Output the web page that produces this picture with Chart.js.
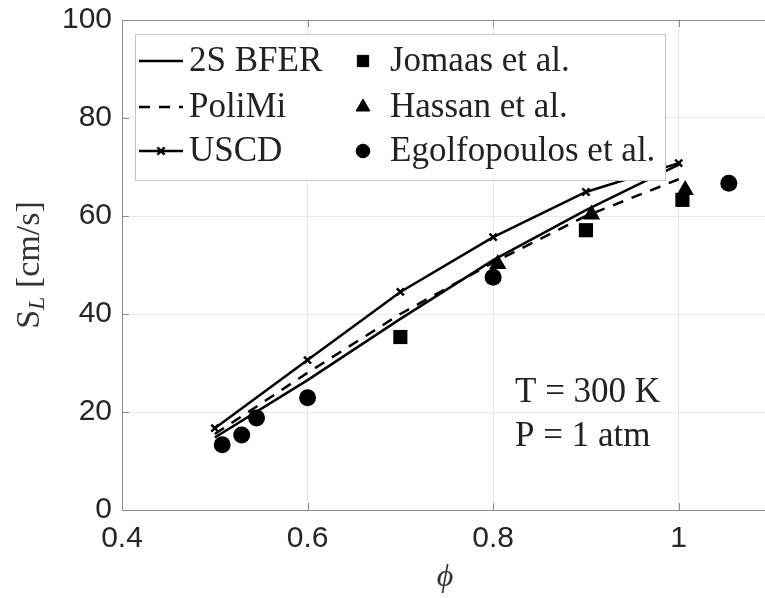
<!DOCTYPE html>
<html>
<head>
<meta charset="utf-8">
<script src="https://cdn.jsdelivr.net/npm/chart.js@4/dist/chart.umd.min.js"></script>
<style>
html, body { margin: 0; padding: 0; background: #fff; overflow: hidden; }
#wrap { width: 765px; height: 598px; }
</style>
</head>
<body>
<div id="wrap"><canvas id="slChart" width="765" height="598"></canvas></div>
<script>
// model curves
var phiModel = [0.5, 0.6, 0.7, 0.8, 0.9, 1.0];
var bferValues = [14.8, 26.5, 39.0, 51.0, 61.2, 70.5];
var polimiValues = [15.5, 28.0, 40.0, 50.5, 60.0, 67.5];
var uscdValues = [16.7, 30.6, 44.5, 55.7, 64.9, 70.8];

// experiments
var jomaasPhi = [0.70, 0.90, 1.004];
var jomaasValues = [35.3, 57.1, 63.3];
var hassanPhi = [0.805, 0.906, 1.007];
var hassanValues = [50.2, 60.3, 65.3];
var egolfPhi = [0.508, 0.529, 0.545, 0.600, 0.800, 1.054];
var egolfValues = [13.3, 15.3, 18.8, 22.9, 47.5, 66.7];

var xTicks = [0.4, 0.6, 0.8, 1.0];
var xTickLabels = ['0.4', '0.6', '0.8', '1'];
var yTicks = [0, 20, 40, 60, 80, 100];
var yTickLabels = ['0', '20', '40', '60', '80', '100'];

function pairs(xs, ys) {
    return xs.map(function (x, i) { return { x: x, y: ys[i] }; });
}

var axisGray = '#8c8c8c';
var textGray = '#262626';
var serif = '"Liberation Serif", "DejaVu Serif", serif';

// box, inward ticks, legend and labels (matlab look)
var framePlugin = {
    id: 'frame',
    beforeDatasetsDraw: function (chart) {
        var ctx = chart.ctx, a = chart.chartArea;
        var xs = chart.scales.x, ys = chart.scales.y;
        ctx.save();
        ctx.strokeStyle = axisGray;
        ctx.lineWidth = 1;
        ctx.beginPath();
        ctx.moveTo(a.left, a.top + 0.5);
        ctx.lineTo(a.right, a.top + 0.5);
        xTicks.forEach(function (v) {
            var px = Math.round(xs.getPixelForValue(v)) + 0.5;
            ctx.moveTo(px, a.bottom); ctx.lineTo(px, a.bottom - 7);
            ctx.moveTo(px, a.top); ctx.lineTo(px, a.top + 7);
        });
        yTicks.forEach(function (v) {
            var py = Math.round(ys.getPixelForValue(v)) + 0.5;
            ctx.moveTo(a.left, py); ctx.lineTo(a.left + 7, py);
        });
        ctx.stroke();
        ctx.restore();
    },
    afterDraw: function (chart) {
        var ctx = chart.ctx;
        var sets = chart.data.datasets;
        ctx.save();

        // legend
        ctx.fillStyle = '#fff';
        ctx.fillRect(135, 34, 530, 146);
        ctx.strokeStyle = '#c4c4c4';
        ctx.lineWidth = 1;
        ctx.strokeRect(135.5, 34.5, 530, 146);
        var rows = [61, 107, 151];
        ctx.font = '35px ' + serif;
        ctx.textBaseline = 'middle';
        ctx.textAlign = 'left';
        for (var i = 0; i < sets.length; i++) {
            var ds = sets[i];
            var y = rows[i % 3];
            if (i < 3) {
                ctx.strokeStyle = '#000';
                ctx.lineWidth = ds.borderWidth;
                ctx.setLineDash(ds.borderDash || []);
                ctx.beginPath();
                ctx.moveTo(139, y); ctx.lineTo(183, y);
                ctx.stroke();
                ctx.setLineDash([]);
                if (ds.pointRadius > 0) {
                    ctx.fillStyle = '#000';
                    Chart.helpers.drawPoint(ctx, { pointStyle: ds.pointStyle, radius: ds.pointRadius, borderWidth: ds.pointBorderWidth, rotation: 0 }, 161, y);
                }
                ctx.fillStyle = '#222';
                ctx.fillText(ds.label, 189, y + 1);
            } else {
                ctx.fillStyle = '#000';
                ctx.strokeStyle = '#000';
                ctx.lineWidth = 1;
                Chart.helpers.drawPoint(ctx, { pointStyle: ds.pointStyle, radius: ds.pointRadius * 0.8, borderWidth: 1, rotation: 0 }, 363, y);
                ctx.fillStyle = '#222';
                ctx.fillText(ds.label, 390, y + 1);
            }
        }

        // conditions
        ctx.fillStyle = '#222';
        ctx.fillText('T = 300 K', 515, 393);
        ctx.fillText('P = 1 atm', 515, 437);

        // x title
        ctx.font = 'italic 32px ' + serif;
        ctx.textAlign = 'center';
        ctx.fillStyle = '#333';
        ctx.fillText('\u03D5', 445, 578);

        // y title S_L [cm/s]
        ctx.translate(30, 265);
        ctx.rotate(-Math.PI / 2);
        ctx.textAlign = 'left';
        ctx.font = '34px ' + serif;
        var wS = ctx.measureText('S').width;
        var wRest = ctx.measureText(' [cm/s]').width;
        ctx.font = 'italic 24px ' + serif;
        var wL = ctx.measureText('L').width;
        var x0 = -(wS + wL + wRest) / 2;
        ctx.font = '34px ' + serif;
        ctx.fillText('S', x0, 0);
        ctx.font = 'italic 24px ' + serif;
        ctx.fillText('L', x0 + wS, 8);
        ctx.font = '34px ' + serif;
        ctx.fillText(' [cm/s]', x0 + wS + wL, 0);

        ctx.restore();
    }
};

var ctx = document.getElementById('slChart').getContext('2d');
var slChart = new Chart(ctx, {
    type: 'scatter',
    data: {
        datasets: [{
            label: '2S BFER',
            data: pairs(phiModel, bferValues),
            showLine: true,
            borderColor: '#000',
            borderWidth: 2.5,
            pointRadius: 0
        }, {
            label: 'PoliMi',
            data: pairs(phiModel, polimiValues),
            showLine: true,
            borderColor: '#000',
            borderWidth: 2.5,
            borderDash: [11, 9],
            pointRadius: 0
        }, {
            label: 'USCD',
            data: pairs(phiModel, uscdValues),
            showLine: true,
            borderColor: '#000',
            borderWidth: 2.5,
            pointStyle: 'crossRot',
            pointRadius: 5,
            pointBorderWidth: 2.5,
            pointBorderColor: '#000'
        }, {
            label: 'Jomaas et al.',
            data: pairs(jomaasPhi, jomaasValues),
            pointStyle: 'rect',
            pointRadius: 10,
            backgroundColor: '#000',
            borderColor: '#000',
            pointBorderWidth: 0
        }, {
            label: 'Hassan et al.',
            data: pairs(hassanPhi, hassanValues),
            pointStyle: 'triangle',
            pointRadius: 10,
            backgroundColor: '#000',
            borderColor: '#000',
            pointBorderWidth: 0
        }, {
            label: 'Egolfopoulos et al.',
            data: pairs(egolfPhi, egolfValues),
            pointStyle: 'circle',
            pointRadius: 8.5,
            backgroundColor: '#000',
            borderColor: '#000',
            pointBorderWidth: 0
        }]
    },
    options: {
        responsive: false,
        animation: false,
        // no extra room for point overflow, plot area is placed by hand
        layout: { autoPadding: false, padding: { top: 20, right: 0, left: 0, bottom: 0 } },
        plugins: {
            legend: { display: false },
            tooltip: { enabled: false }
        },
        scales: {
            x: {
                type: 'linear',
                min: 0.4,
                max: 1.093,   // axis runs past the cropped right edge
                afterFit: function (s) { s.height = 88; s.paddingLeft = 0; s.paddingRight = 0; },
                afterBuildTicks: function (s) { s.ticks = xTicks.map(function (v) { return { value: v }; }); },
                ticks: {
                    callback: function (v, i) { return xTickLabels[i]; },
                    font: { family: '"Liberation Sans", Arial, sans-serif', size: 30 },
                    color: textGray,
                    padding: 11,
                    maxRotation: 0,
                    autoSkip: false
                },
                grid: { color: '#e8e8e8', drawTicks: false },
                border: { color: axisGray }
            },
            y: {
                type: 'linear',
                min: 0,
                max: 100,
                afterFit: function (s) { s.width = 122; s.paddingTop = 0; s.paddingBottom = 0; },
                afterBuildTicks: function (s) { s.ticks = yTicks.map(function (v) { return { value: v }; }); },
                ticks: {
                    callback: function (v, i) { return yTickLabels[i]; },
                    font: { family: '"Liberation Sans", Arial, sans-serif', size: 30 },
                    color: textGray,
                    padding: 10,
                    autoSkip: false
                },
                grid: { color: '#e8e8e8', drawTicks: false },
                border: { color: axisGray }
            }
        }
    },
    plugins: [framePlugin]
});
</script>
</body>
</html>
